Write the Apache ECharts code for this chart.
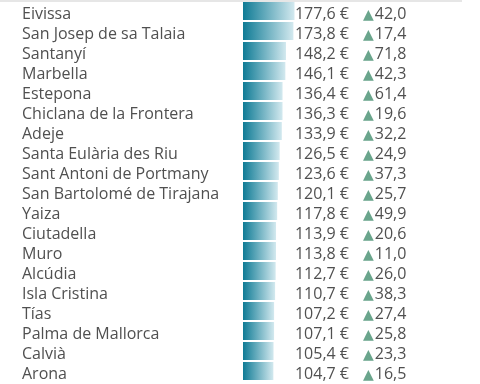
<!DOCTYPE html>
<html><head><meta charset="utf-8">
<script src="https://cdn.jsdelivr.net/npm/echarts@6/dist/echarts.min.js"></script>
<style>html,body{margin:0;padding:0;background:#fff}#c{width:480px;height:384px}</style>
</head><body><div id="c"></div>
<script>
var names = ["Eivissa","San Josep de sa Talaia","Santanyí","Marbella","Estepona","Chiclana de la Frontera","Adeje","Santa Eulària des Riu","Sant Antoni de Portmany","San Bartolomé de Tirajana","Yaiza","Ciutadella","Muro","Alcúdia","Isla Cristina","Tías","Palma de Mallorca","Calvià","Arona"];
var values = [177.6,173.8,148.2,146.1,136.4,136.3,133.9,126.5,123.6,120.1,117.8,113.9,113.8,112.7,110.7,107.2,107.1,105.4,104.7];
var changes = [42.0,17.4,71.8,42.3,61.4,19.6,32.2,24.9,37.3,25.7,49.9,20.6,11.0,26.0,38.3,27.4,25.8,23.3,16.5];

function fmt(v){ return v.toFixed(1).replace('.', ','); }
var font = "'Open Sans', sans-serif";
var txt = '#505050';
var tstyle = {color:txt, fontSize:16, fontFamily:font};
var chart = echarts.init(document.getElementById('c'), null, {renderer:'canvas'});
chart.setOption({
  animation:false,
  graphic:[{type:'rect', shape:{x:0,y:0,width:462,height:2}, style:{fill:'#e6e6e6'}}],
  grid:{left:243, top:1, width:58, height:380},
  xAxis:{type:'value', min:0, max:200, show:false},
  yAxis:[
    {type:'category', data:names, inverse:true, position:'left',
     axisLine:{show:false}, axisTick:{show:false},
     axisLabel:{interval:0, align:'left', margin:221, padding:[6,0,0,0],
       formatter:function(v){return '{a|'+v+'}';}, rich:{a:tstyle}}},
    {type:'category', data:values.map(function(v){return fmt(v)+' €';}), inverse:true, position:'right',
     axisLine:{show:false}, axisTick:{show:false},
     axisLabel:{interval:0, align:'right', margin:48, padding:[6,0,0,0],
       formatter:function(v){return '{a|'+v+'}';}, rich:{a:tstyle}}},
    {type:'category', data:changes.map(function(v){return fmt(v);}), inverse:true, position:'right', offset:62,
     axisLine:{show:false}, axisTick:{show:false},
     axisLabel:{interval:0, align:'left', margin:0, padding:[6,0,0,0],
       formatter:function(v){return '{t|▲}{a|'+v+'}';},
       rich:{t:{color:'#6aa58c', fontSize:14, fontFamily:'DejaVu Sans', padding:[3,1,0,0]}, a:tstyle}}}
  ],
  series:[{type:'bar', data:values, yAxisIndex:0, barCategoryGap:'10%',
    itemStyle:{color:new echarts.graphic.LinearGradient(0,0,1,0,[{offset:0,color:'#0f7b95'},{offset:1,color:'#d3e9ef'}])}}]
});
</script></body></html>
